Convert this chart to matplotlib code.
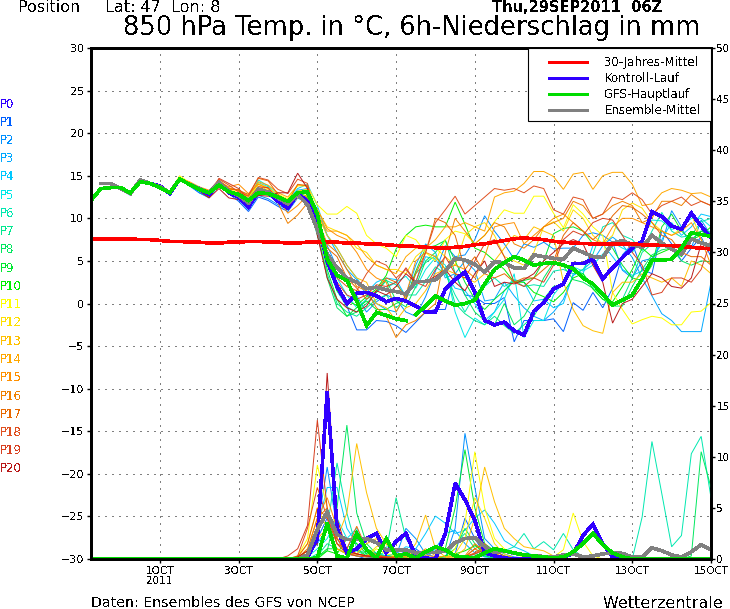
import matplotlib
import matplotlib.pyplot as plt
import numpy as np
from matplotlib.patches import Rectangle

matplotlib.use("Agg")

plt.rcParams["lines.antialiased"] = False
plt.rcParams["text.antialiased"] = False
plt.rcParams["lines.solid_joinstyle"] = "miter"

STEPS = np.arange(64)  # 6-hourly, starting 29SEP 06Z
TICK_STEPS = [7, 15, 23, 31, 39, 47, 55, 63]
TICK_LABELS = ["1OCT\n2011", "3OCT", "5OCT", "7OCT", "9OCT", "11OCT", "13OCT", "15OCT"]

MEMBER_COLORS = ["#3000ff", "#0060ff", "#0090ff", "#00a8ff", "#00c8ff", "#00e8e8", "#00e8b0",
                 "#00e890", "#00e860", "#00e830", "#00f000", "#ffff00", "#ffe000", "#ffc000",
                 "#ffa800", "#ff9000", "#f08000", "#e86800", "#e05020", "#d84020", "#b81818"]

CLIMATE = [7.6, 7.6, 7.6, 7.6, 7.6, 7.5, 7.5, 7.4, 7.3, 7.3, 7.2, 7.2, 7.1, 7.1, 7.2, 7.2,
           7.3, 7.3, 7.2, 7.2, 7.1, 7.1, 7.2, 7.2, 7.2, 7.2, 7.1, 7.1, 7.0, 7.0, 6.9, 6.8,
           6.75, 6.7, 6.6, 6.55, 6.5, 6.6, 6.7, 6.9, 7.0, 7.2, 7.4, 7.6, 7.7, 7.6, 7.5, 7.3,
           7.2, 7.1, 7.05, 7.0, 7.0, 7.0, 7.0, 7.0, 6.9, 6.9, 6.8, 6.8, 6.7, 6.6, 6.5, 6.4]

GFS = [12.1, 13.5, 13.6, 13.6, 13.0, 14.3, 14.1, 13.6, 13.0, 14.6, 14.0, 13.4, 13.0, 13.9, 13.1, 12.8,
       12.1, 13.0, 12.9, 12.5, 12.0, 13.0, 13.1, 10.5, 5.2, 3.3, 2.7, 0.3, -2.6, -1.05, -1.4, -1.8,
       -2.0, -1.3, -0.3, 0.9, 0.3, -0.2, 0.0, 0.4, 2.3, 4.0, 4.8, 5.5, 5.1, 4.5, 4.7, 4.8,
       4.5, 4.1, 3.0, 2.3, 1.1, -0.2, 0.4, 1.0, 2.9, 5.1, 5.1, 5.2, 6.5, 8.3, 8.1, 7.9]

ENS_MEAN = [np.nan, 14.1, 14.1, 13.5, 12.9, 14.5, 14.1, 13.7, 13.0, 14.6, 14.0, 13.5, 13.0, 14.2, 13.2, 12.7,
            11.8, 13.4, 13.1, 12.4, 11.7, 12.8, 11.6, 8.7, 5.8, 4.2, 3.0, 2.5, 1.75, 1.9, 1.6, 1.4,
            1.1, 2.6, 2.6, 2.8, 3.8, 5.3, 5.1, 4.6, 3.7, 4.9, 4.8, 4.2, 4.1, 5.7, 5.5, 5.3,
            5.2, 6.5, 6.0, 5.5, 5.4, 7.1, 7.4, 6.9, 6.6, 8.0, 7.1, 6.4, 5.8, 7.6, 7.1, 6.8]

T_P0 = [np.nan, 14.1, 14.1, 13.5, 12.9, 14.5, 14.1, 13.8, 12.9, 14.6, 14.0, 13.4, 12.8, 14.2, 13.0, 12.5,
        11.3, 13.2, 13.0, 12.0, 11.2, 12.9, 12.0, 9.5, 5.0, 2.0, 0.0, 1.2, 1.3, 0.9, 0.2, 0.6,
        0.3, -0.3, -1.0, -1.0, 1.7, 2.8, 3.7, 1.3, -2.0, -2.5, -2.2, -3.2, -3.7, -0.9, 0.1, 1.7,
        2.3, 4.7, 4.7, 5.2, 2.9, 4.2, 5.4, 6.5, 7.3, 10.8, 10.2, 9.1, 8.7, 10.6, 9.1, 7.7]

T_P1 = [14.1, 14.1, 13.4, 12.7, 14.4, 14.1, 13.6, 12.8, 14.5, 13.9, 13.0, 12.5, 14.0, 12.9, 12.0, 10.8, 12.5, 12.1, 11.4, 10.8, 12.4, 11.8,
        9.0, 5.0, 1.5, -0.3, -3.1, -3.1, -2.0, -2.1, -2.6, -3.4, -2.2, -1.0, -0.7, -0.7, 3.4, 1.0, 0.8, 0.0, 0.0, 0.7, -4.5, -2.0, -2.0, -2.0, -1.8, -3.3, 0.1, -0.8, 1.3, -0.5, 1.8, 5.7, 7.0, 4.0, 3.5, 8.6, 7.0, 5.0, 6.5, 7.8, 5.5]
T_P2 = [14.1, 14.1, 13.4, 12.8, 14.5, 14.1, 13.6, 12.8, 14.6, 13.8, 13.0, 12.4, 13.9, 13.0, 12.2, 11.0, 12.7, 12.3, 11.6, 11.0, 12.6, 12.2,
        10.0, 6.8, 4.2, 2.6, 0.9, -1.0, 0.2, 1.0, 0.5, -1.0, -1.5, 0.8, 3.8, 6.8, 5.5, 5.7, 7.5, 10.3, 8.5, 7.0, 5.2, 7.0, 6.6, 7.2, 6.4, 6.5, 6.5, 8.0, 8.3, 8.0, 7.2, 3.9, 3.0, 5.0, 5.3, 7.0, 10.9, 9.0, 6.5, 9.8, 8.0]
T_P3 = [14.1, 14.1, 13.5, 12.8, 14.6, 14.2, 13.7, 12.9, 14.6, 14.0, 13.4, 13.0, 14.1, 13.2, 12.6, 11.9, 13.6, 13.2, 12.6, 11.8, 13.3, 13.5,
        10.8, 8.0, 6.0, 4.0, 2.8, 1.0, 0.0, -0.7, -1.0, 1.0, 4.5, 7.0, 6.0, 3.0, 3.5, 5.0, 3.9, 0.3, 0.5, 2.5, 0.9, -0.5, -1.5, -2.0, -1.0, 0.5, 3.3, 4.0, 5.0, 6.8, 7.8, 6.9, 5.4, 3.0, 0.9, -1.2, -2.0, -3.3, -3.3, -3.3, 2.5]
T_P4 = [14.1, 14.1, 13.5, 12.9, 14.5, 14.1, 13.8, 13.0, 14.7, 14.0, 13.5, 13.1, 14.3, 13.3, 12.8, 12.4, 14.2, 13.7, 12.5, 12.0, 13.5, 14.0,
        11.5, 8.0, 6.5, 4.5, 3.0, 1.3, 2.5, 3.0, 2.8, 0.8, 2.5, 5.5, 5.2, 3.5, 1.8, 1.5, 0.0, -2.0, -1.0, 1.5, 2.8, 2.5, 0.3, 0.5, -0.5, 0.0, 3.5, 3.5, 6.8, 7.0, 5.5, 4.0, 3.3, 3.8, 5.0, 7.5, 9.5, 8.0, 9.0, 10.5, 10.2]
T_P5 = [14.1, 14.1, 13.5, 12.8, 14.5, 14.1, 13.7, 12.9, 14.6, 14.0, 13.3, 12.9, 14.2, 13.1, 12.6, 12.2, 14.5, 13.8, 12.7, 12.2, 13.3, 13.2,
        9.5, 6.0, 3.0, 1.0, -0.5, 0.5, 1.5, 1.8, 2.5, 3.2, 1.8, 4.0, 5.4, 4.5, -1.0, -4.0, -1.7, -2.5, -1.0, 0.5, 3.5, -4.0, -2.0, -2.0, 1.0, 2.5, 4.3, 3.8, 4.5, 5.8, 7.2, 6.5, 6.0, 7.5, 9.8, 9.7, 8.7, 9.0, 10.0, 10.0, 9.0]
T_P6 = [14.1, 14.1, 13.5, 12.9, 14.6, 14.2, 13.7, 13.0, 14.6, 14.1, 13.5, 13.0, 14.2, 13.2, 12.6, 11.8, 13.2, 13.0, 12.3, 11.6, 12.8, 12.4,
        8.8, 4.5, 1.5, -0.4, -1.0, 0.5, 1.3, 2.7, 2.2, 1.0, 1.0, 2.6, 4.3, 3.5, 1.0, -1.0, 1.0, 2.0, 3.0, 2.0, 2.7, 2.0, 2.2, 2.0, 3.8, 4.0, 3.5, 4.0, 5.8, 9.0, 9.5, 8.0, 7.5, 6.2, 8.5, 10.7, 8.5, 7.8, 8.0, 9.6, 10.0]
T_P7 = [14.0, 14.0, 13.5, 12.8, 14.5, 14.1, 13.8, 13.0, 14.5, 14.0, 13.4, 12.9, 14.1, 13.0, 12.4, 11.6, 13.1, 12.8, 12.2, 11.3, 12.7, 12.0,
        8.0, 3.5, 0.0, -1.0, -1.5, -0.5, 0.5, 1.0, -0.5, 0.5, 3.5, 4.8, 5.6, 4.0, 0.0, -1.2, -2.0, -2.5, -1.5, -2.6, -3.5, -2.5, -1.5, 0.5, 2.0, 2.2, 4.0, 3.5, 2.0, 1.0, -0.3, 0.5, 3.0, 6.0, 7.0, 7.0, 6.8, 6.8, 8.0, 8.5, 8.4]
T_P8 = [14.1, 14.1, 13.5, 12.8, 14.4, 14.1, 13.6, 12.9, 14.6, 14.0, 13.3, 12.8, 14.1, 13.0, 12.3, 11.4, 13.0, 12.7, 12.0, 11.0, 12.6, 11.8,
        8.5, 3.0, -0.5, -1.5, -1.0, 0.0, 1.3, 2.8, 0.3, -0.4, 2.0, 5.0, 6.0, 7.5, 3.5, 1.0, -1.0, -2.0, -2.5, 0.0, -2.5, -1.5, 0.5, 3.0, 4.8, 4.4, 2.8, 2.5, 1.8, 0.5, -0.3, -0.3, 2.0, 4.0, 5.7, 6.3, 6.5, 5.0, 4.5, 5.0, 4.9]
T_P9 = [14.1, 14.1, 13.5, 12.9, 14.5, 14.1, 13.7, 13.0, 14.6, 13.9, 13.4, 12.9, 14.2, 13.1, 12.5, 11.5, 13.3, 13.0, 12.3, 11.5, 12.9, 12.4,
        9.0, 4.0, 0.5, -1.5, -0.5, 0.3, -0.7, -0.7, 0.0, 0.5, 3.8, 6.5, 6.8, 7.4, 5.0, 2.5, 0.5, -0.7, 0.5, 1.5, 2.6, 2.7, 3.0, 5.0, 8.2, 8.8, 9.0, 8.5, 7.0, 7.2, 6.5, 4.5, 3.0, 2.7, 4.5, 9.0, 10.5, 8.5, 7.5, 8.5, 8.0]
T_P10 = [14.0, 14.1, 13.4, 12.8, 14.5, 14.2, 13.7, 13.0, 14.7, 14.2, 13.5, 13.0, 14.3, 13.2, 12.6, 11.7, 13.4, 12.9, 12.4, 11.6, 13.0, 12.6,
         9.3, 5.0, 1.5, 0.3, -0.2, 0.8, 1.7, 3.3, 6.4, 8.0, 9.0, 9.2, 9.0, 9.0, 11.9, 9.3, 6.5, 6.0, 5.0, 4.0, 2.5, 2.5, 1.3, 0.8, 0.2, 1.3, 3.0, 3.5, 1.7, 0.5, 0.2, 2.0, 4.0, 6.5, 5.5, 6.0, 6.5, 5.5, 7.5, 8.0, 9.0]
T_P11 = [14.1, 14.1, 13.5, 12.9, 14.6, 14.2, 13.8, 13.1, 15.0, 14.2, 13.6, 13.2, 14.4, 13.4, 13.0, 12.5, 14.0, 13.5, 12.8, 12.3, 13.8, 13.8,
         11.6, 10.5, 10.5, 11.4, 10.6, 8.0, 7.0, 6.5, 5.5, 8.0, 7.5, 6.0, 5.0, 7.5, 8.5, 8.2, 7.0, 8.0, 9.6, 11.0, 10.6, 10.6, 12.6, 12.6, 10.6, 8.9, 11.6, 10.5, 9.0, 8.0, 1.3, -0.7, -2.4, -1.9, -1.5, -1.7, -2.5, -2.5, -1.0, -0.9, 0.1]
T_P12 = [14.1, 14.1, 13.5, 12.9, 14.5, 14.2, 13.8, 13.0, 14.8, 14.1, 13.5, 13.1, 14.3, 13.5, 13.2, 12.7, 14.1, 13.6, 12.7, 12.0, 13.2, 13.4,
         11.0, 9.0, 8.5, 8.0, 6.5, 6.0, 4.5, 4.0, 4.0, 3.5, 5.5, 6.5, 6.5, 5.5, 4.5, 8.0, 9.0, 9.5, 8.0, 5.5, 5.0, 4.5, 6.0, 9.0, 9.6, 8.5, 11.0, 10.0, 8.0, 7.0, 8.0, 11.0, 11.8, 11.2, 9.5, 8.5, 8.0, 8.8, 10.5, 7.5, 6.0]
T_P13 = [14.1, 14.1, 13.5, 12.8, 14.6, 14.1, 13.7, 13.0, 14.6, 14.1, 13.4, 13.0, 14.2, 13.3, 12.9, 12.3, 13.8, 13.3, 12.5, 11.4, 12.4, 12.8,
         10.5, 8.0, 6.5, 4.5, 3.0, 2.5, 0.0, -0.5, -2.0, -0.5, 0.0, 1.5, 3.5, 4.0, 3.5, 3.0, 2.5, 3.5, 5.0, 6.5, 8.0, 7.5, 9.0, 8.5, 8.0, 2.5, -0.7, -2.6, -3.2, -3.5, 1.3, 2.5, 2.5, 3.5, 3.0, 2.5, 3.0, 2.0, 5.0, 4.5, 3.5]
T_P14 = [14.1, 14.1, 13.6, 12.9, 14.6, 14.2, 13.8, 13.0, 14.7, 14.3, 13.7, 13.3, 14.4, 13.6, 13.3, 12.6, 14.3, 13.9, 13.0, 12.5, 13.9, 13.9,
         10.5, 8.5, 8.5, 8.0, 7.0, 5.5, 4.5, 4.0, 3.5, 5.5, 6.5, 6.5, 7.5, 9.0, 9.0, 9.5, 9.0, 8.5, 12.5, 13.0, 13.2, 14.1, 15.5, 15.5, 14.9, 13.4, 15.2, 15.4, 13.4, 15.0, 15.4, 15.4, 14.0, 11.5, 11.7, 13.0, 13.5, 13.3, 12.9, 13.0, 12.5]
T_P15 = [14.1, 14.1, 13.5, 12.9, 14.5, 14.1, 13.8, 13.1, 14.7, 14.2, 13.6, 13.2, 14.3, 13.7, 14.0, 12.9, 14.0, 13.5, 12.3, 10.6, 11.5, 12.7,
         11.0, 8.8, 8.0, 7.5, 6.0, 4.0, 3.0, 2.5, -1.0, 1.0, 5.0, 6.0, 5.5, 4.0, 4.5, 4.0, 3.0, 5.5, 9.0, 9.3, 9.5, 7.0, 8.0, 9.0, 10.0, 10.5, 9.5, 8.5, 7.5, 7.0, 9.0, 10.0, 10.0, 9.5, 9.0, 8.5, 8.0, 8.5, 9.5, 7.5, 4.5]
T_P16 = [14.1, 14.1, 13.5, 12.8, 14.5, 14.1, 13.6, 12.9, 14.6, 14.0, 13.4, 13.0, 14.3, 13.4, 13.4, 11.5, 13.0, 12.9, 11.8, 9.4, 10.4, 11.8,
         10.0, 7.0, 6.0, 4.0, 2.0, 1.5, -0.5, -1.5, -4.0, -2.5, -2.0, -1.0, 0.0, 6.0, 10.0, 8.5, 7.0, 8.0, 9.5, 9.0, 7.0, 6.5, 7.5, 9.0, 9.5, 10.0, 12.0, 11.5, 10.0, 10.5, 11.5, 12.0, 11.5, 9.5, 10.0, 12.0, 12.0, 11.5, 12.8, 12.0, 11.5]
T_P17 = [14.0, 14.1, 13.4, 12.9, 14.4, 14.0, 13.7, 13.0, 14.5, 14.1, 13.5, 13.1, 14.5, 13.5, 13.3, 12.8, 14.7, 14.4, 12.8, 11.9, 14.0, 13.8,
         9.5, 6.5, 5.5, 3.0, 1.8, 0.5, 1.5, 3.0, 2.5, 0.5, 3.5, 6.0, 10.0, 9.5, 8.0, 4.0, 5.5, 3.5, 3.0, 3.5, 2.5, 3.0, 3.0, 4.0, 5.0, 8.0, 9.5, 8.5, 7.5, 8.5, 10.3, 11.5, 11.3, 10.5, 9.5, 8.0, 7.5, 6.0, 5.5, 5.5, 4.5]
T_P18 = [14.1, 14.1, 13.5, 12.9, 14.5, 14.2, 13.8, 13.1, 14.6, 14.1, 13.6, 13.2, 14.6, 13.9, 13.1, 12.6, 14.8, 14.5, 13.4, 12.9, 14.6, 14.1,
         8.5, 6.0, 3.0, 2.0, 1.5, 3.5, 5.0, 4.5, 3.0, 4.0, 2.5, 6.0, 9.5, 11.0, 12.6, 10.5, 11.5, 12.5, 13.5, 13.3, 13.5, 13.0, 13.8, 13.5, 11.0, 10.5, 12.5, 12.2, 10.0, 10.5, 12.5, 12.2, 13.0, 12.2, 10.5, 11.5, 12.0, 12.5, 11.5, 12.0, 11.5]
T_P19 = [14.1, 14.1, 13.4, 12.8, 14.5, 14.1, 13.6, 12.8, 14.5, 13.9, 13.3, 12.5, 14.7, 14.1, 13.5, 12.2, 13.7, 13.6, 12.2, 11.3, 13.0, 12.3,
         9.0, 5.0, 2.5, 1.0, 0.5, 1.0, 2.2, 2.0, 2.5, 4.2, 2.5, 2.0, 4.0, 5.5, 3.5, 3.0, 5.0, 7.0, 7.5, 5.5, 2.5, 2.0, 3.0, 2.5, 4.5, 7.5, 8.5, 8.0, 9.5, 10.0, 9.8, 8.0, 6.0, 4.5, 1.0, 1.3, 3.0, 3.0, 2.5, 4.0, 7.5]
T_P20 = [14.1, 14.1, 13.5, 12.9, 14.5, 14.1, 13.7, 13.0, 14.5, 14.0, 13.2, 12.4, 13.5, 12.4, 12.2, 11.4, 12.7, 12.6, 13.0, 13.0, 15.3, 13.5,
         8.0, 3.0, 0.5, -0.5, -1.0, -0.3, 1.5, 1.0, 2.0, 3.5, 2.5, 2.5, 3.2, 4.0, 2.5, 1.5, 3.5, 5.0, 2.0, 2.5, 2.3, 2.8, 3.5, 5.0, 6.0, 7.0, 7.5, 7.0, 4.5, 2.5, -2.3, 0.0, 0.5, 2.0, 3.5, 3.0, 2.0, 1.8, 3.0, 7.0, 6.5]

T_MEMBERS = [T_P1, T_P2, T_P3, T_P4, T_P5, T_P6, T_P7, T_P8, T_P9, T_P10,
             T_P11, T_P12, T_P13, T_P14, T_P15, T_P16, T_P17, T_P18, T_P19, T_P20]

# precipitation, first 20 steps are dry for every run
DRY = [0.0] * 20
R_P0 = DRY + [0, 0, 0.2, 2, 16.4, 3, 0.6, 1, 2, 2.5, 0.6, 1.7, 2.5, 0.3, 0.1, 0, 2.5, 7.4, 5.8, 3.8,
              0.6, 0.3, 0.1, 0, 0, 0, 0, 0.1, 0.2, 0.5, 2.3, 3.4, 1.5, 0.2, 0, 0, 0, 0, 0, 0, 0, 0, 0, 0]
R_GFS = DRY + [0, 0, 0, 0.1, 3.5, 0.3, 0.1, 2.5, 0.9, 0.1, 2.0, 0.3, 0.5, 0.1, 0.7, 1.2, 0.9, 0.3, 0.2, 0.1,
               0.6, 1.0, 0.8, 0.6, 0.4, 0.3, 0.2, 0.1, 0.2, 0.7, 1.5, 2.5, 1.4, 0.6, 0.2, 0, 0, 0, 0, 0, 0, 0, 0, 0]
R_MEAN = DRY + [0, 0, 0.4, 2.9, 4.6, 2.4, 1.9, 1.9, 2.0, 1.6, 0.9, 0.9, 0.9, 0.6, 0.65, 0.65, 0.75, 1.6, 2.0, 2.1,
                1.2, 0.65, 0.8, 0.55, 0.4, 0.3, 0.25, 0.2, 0.4, 0.5, 0.2, 0.3, 0.5, 0.6, 0.55, 0.2, 0.2, 1.1, 0.8, 0.4, 0.2, 0.7, 1.4, 0.9]

R_P1 = DRY + [0, 0, 0.3, 2, 4, 1.5, 0.5, 0.3, 0, 0, 0, 0.2, 0.8, 1, 0.3, 0, 0, 0.5, 4, 2,
              0.5, 0.3, 0.2, 0, 0, 0, 0, 0, 0, 0, 0, 0, 0, 0, 0, 0, 0, 0, 0, 0, 0, 0, 0, 0]
R_P2 = DRY + [0, 0, 0.5, 3, 9, 3, 1, 2.8, 0.5, 0.2, 0, 0.3, 3, 2, 0.5, 0.2, 0.1, 3, 12.3, 7,
              2, 1, 0.5, 0.2, 0.1, 0, 0, 0, 0, 0, 0, 0, 0, 0, 0, 0, 0, 0, 0, 0, 0, 0, 0, 0]
R_P3 = DRY + [0, 0, 0.3, 1.5, 3, 2, 0.5, 0.3, 0.2, 0.1, 0.3, 0.5, 0.2, 0, 0, 1, 2.5, 2.8, 1.5, 0.6,
              0.2, 0.1, 0, 0, 0, 0, 0, 0, 0, 0, 0, 0, 0, 0, 0, 0, 0, 0, 0, 0, 0, 0, 0, 0]
R_P4 = DRY + [0, 0, 0.4, 3, 7, 7, 3, 1.5, 0.8, 0.5, 0.3, 0.5, 1.2, 1, 2.5, 4.2, 3.5, 2.5, 2.8, 4,
              4.8, 3.5, 1.8, 1.2, 0.8, 0.3, 0.2, 0.2, 0.1, 0, 0, 0, 0, 0, 0, 0, 0, 0, 0, 0, 0, 0, 0, 0]
R_P5 = DRY + [0, 0, 0.2, 1, 2, 4, 2, 3, 1, 0.6, 0.3, 0.2, 0.1, 0.1, 0, 0, 0, 0, 0, 0,
              0, 0, 0, 0, 0, 0, 0, 0, 0, 0, 0, 0, 0, 0, 0, 0, 0, 0, 0, 0, 0, 0, 0, 0]
R_P6 = DRY + [0, 0, 0, 0.5, 3, 9.4, 4.5, 1, 0.5, 0.3, 0.3, 0.2, 0.1, 0, 0, 0, 0, 0, 0, 0.5,
              0.3, 0.5, 0.8, 1.2, 2.5, 1, 1.7, 0.9, 2.5, 0.9, 0.2, 0, 0, 0, 0, 0, 4.1, 11.5, 6.4, 1.2, 2.3, 10.3, 12, 6]
R_P7 = DRY + [0, 0, 0, 0.3, 1.5, 1, 0.5, 0.8, 0.3, 0.2, 0.8, 6, 2, 0.5, 0.2, 0.1, 0.2, 1.5, 2.5, 1,
              0.3, 0.1, 0, 0, 0, 0, 0, 0, 0, 0, 0, 0, 0, 0, 0, 0, 0, 0, 0, 0, 0, 0, 0, 0]
R_P8 = DRY + [0, 0, 0, 0.2, 0.8, 5, 13.1, 4.5, 1.5, 0.5, 0.2, 0.2, 0.1, 0, 0, 0, 0.3, 1, 3, 1.5,
              0.3, 0.1, 0, 0, 0, 0, 0, 0, 0, 0, 0, 0, 0, 0, 0, 0, 0, 0, 0, 0, 0, 0.3, 10.5, 7]
R_P9 = DRY + [0, 0, 0, 0.2, 1, 1, 0.5, 1, 0.3, 0.1, 0, 0.1, 0, 0, 0, 0.2, 1, 5, 10.7, 5,
              1.5, 0.8, 0.3, 0.1, 0, 0, 0, 0, 0, 0, 0, 0, 0, 0, 0, 0, 0, 0, 0, 0, 0, 0, 0, 0]
R_P10 = DRY + [0, 0, 0, 0, 0.8, 0.5, 2, 1.5, 0.5, 0.2, 0.2, 0.2, 0.1, 0, 0, 0.1, 0.3, 0.5, 0.8, 1.3,
               0.8, 0.4, 0.2, 0.1, 0, 0, 0, 0, 0, 0, 0, 0, 0, 0, 0, 0, 0, 0, 0, 0, 0, 0, 0, 0]
R_P11 = DRY + [0, 0.3, 2, 9.2, 5, 1.5, 0.5, 0.3, 0.2, 1, 0.5, 0.3, 0.2, 0.1, 0, 0, 0, 1, 3.5, 10.5,
               5, 2, 1, 0.5, 0.2, 0.1, 0.2, 0.2, 0.9, 4.5, 1.7, 0.3, 0, 0, 0, 0, 0, 0, 0, 0, 0, 0, 0, 0]
R_P12 = DRY + [0, 0.2, 1.5, 5, 3, 1, 0.5, 0.5, 0.3, 1.2, 1.5, 0.5, 0.3, 0.8, 0.2, 0, 0, 0.5, 2, 6,
               4, 1.5, 0.5, 0.1, 0, 0, 0, 0, 0, 0, 0, 0, 0, 0, 0, 0, 0, 0, 0, 0, 0, 0, 0, 0]
R_P13 = DRY + [0, 0.1, 0.8, 3, 4.5, 2, 4.5, 11.3, 6.5, 3, 1.5, 0.5, 0.3, 1.5, 4.3, 1, 0.2, 0.2, 1, 4,
               9, 5.6, 3, 2, 1.2, 1, 0.8, 0.3, 0, 0, 0, 0, 0, 0, 0, 0, 0, 0, 0, 0, 0, 0, 0, 0]
R_P14 = DRY + [0, 0, 0.5, 2, 3, 1, 0.5, 0.5, 1.5, 2, 1, 0.5, 0.3, 0.3, 1, 0.3, 0.2, 0.2, 0.3, 0.5,
               1, 0.5, 0.2, 0, 0, 0, 0, 0, 0, 0, 0, 0, 0, 0, 0, 0, 0, 0, 0, 0, 0, 0, 0, 0]
R_P15 = DRY + [0, 0.1, 0.8, 4, 6, 3, 1, 0.5, 0.3, 0.2, 0.1, 0.3, 0.2, 0.3, 0.4, 0.2, 0, 0, 0.2, 1,
               0.5, 0.2, 0, 0, 0, 0, 0, 0, 0, 0, 0, 0, 0, 0, 0, 0, 0, 0, 0, 0, 0, 0, 0, 0]
R_P16 = DRY + [0, 0.1, 1, 4, 5, 2, 1, 0.5, 0.3, 0.3, 0.2, 0.1, 0, 0, 0, 0, 0, 0, 0.3, 1.5,
               0.8, 0.3, 0.1, 0, 0, 0, 0, 0, 0, 0, 0, 0, 0, 0, 0, 0, 0, 0, 0, 0, 0, 0, 0, 0]
R_P17 = DRY + [0, 0.2, 1.5, 5, 4, 1.5, 1, 3.2, 1, 0.4, 0.2, 0.1, 0, 0, 0, 0, 0, 0, 0.2, 1,
               1.5, 0.6, 0.1, 0, 0, 0, 0, 0, 0, 0, 0, 0, 0, 0, 0, 0, 0, 0, 0, 0, 0, 0, 0, 0]
R_P18 = DRY + [0, 0.3, 3, 7, 4, 2, 0.5, 0.5, 0.3, 0.3, 0.2, 0.1, 0, 0, 0, 0, 0, 0, 0.2, 0.6,
               1.2, 0.8, 0.3, 0.1, 0, 0, 0, 0, 0, 0, 0, 0, 0, 0, 0, 0, 0, 0, 0, 0, 0, 0, 0, 0]
R_P19 = DRY + [0.3, 1, 3.3, 13.6, 5, 1.5, 0.5, 0.3, 0.2, 0.2, 0.1, 0, 0, 0, 0, 0, 0, 0, 0.2, 0.5,
               0.9, 0.4, 0.1, 0, 0, 0, 0, 0, 0, 0, 0, 0, 0, 0, 0, 0, 0, 0, 0, 0, 0, 0, 0, 0]
R_P20 = DRY + [0, 0.2, 0.8, 1.5, 18.2, 4, 0.8, 0.5, 0.3, 0.2, 0.1, 0, 0, 0, 0, 0, 0, 0, 0, 0.3,
               0.5, 0.2, 0, 0, 0, 0, 0, 0, 0, 0, 0, 0, 0, 0, 0, 0, 0, 0, 0, 0, 0, 0, 0, 0]

R_MEMBERS = [R_P1, R_P2, R_P3, R_P4, R_P5, R_P6, R_P7, R_P8, R_P9, R_P10,
             R_P11, R_P12, R_P13, R_P14, R_P15, R_P16, R_P17, R_P18, R_P19, R_P20]

LEGEND_LABELS = ["30-Jahres-Mittel", "Kontroll-Lauf", "GFS-Hauptlauf", "Ensemble-Mittel"]
LEGEND_COLORS = ["#ff0000", "#3000ff", "#00dc00", "#808080"]

W, H = 730, 609


def put_text(fig, x, y, text, **kw):
    fig.text(x / W, 1 - y / H, text, va="center", **kw)


fig = plt.figure(figsize=(W / 100, H / 100), dpi=100)
ax = fig.add_axes([91 / W, 1 - 559 / H, 620 / W, 511 / H])
ax2 = ax.twinx()

ax.set_xlim(0, 63)
ax.set_ylim(-30, 30)
ax2.set_ylim(0, 50)

thin = 0.7
thick = 1.9

# temperature and precipitation share the same axes frame
for i, series in enumerate(T_MEMBERS):
    ax.plot(STEPS[1:], series, color=MEMBER_COLORS[i + 1], lw=thin, antialiased=True)
for i, series in enumerate(R_MEMBERS):
    ax2.plot(STEPS, series, color=MEMBER_COLORS[i + 1], lw=thin, antialiased=True)

# the two axes stack, so the thick temperature lines go on the upper one
ax2.plot(STEPS, R_P0, color=LEGEND_COLORS[1], lw=thick)
ax2.plot(STEPS, R_MEAN, color=LEGEND_COLORS[3], lw=thick)
ax2.plot(STEPS, R_GFS, color=LEGEND_COLORS[2], lw=thick)

y_temp = lambda v: (np.asarray(v, float) + 30) / 60 * 50
ax2.plot(STEPS, y_temp(T_P0), color=LEGEND_COLORS[1], lw=thick)
ax2.plot(STEPS, y_temp(ENS_MEAN), color=LEGEND_COLORS[3], lw=thick)
ax2.plot(STEPS, y_temp(CLIMATE), color=LEGEND_COLORS[0], lw=thick)
ax2.plot(STEPS[:33], y_temp(GFS[:33]), color=LEGEND_COLORS[2], lw=thick)
ax2.plot(STEPS[33:], y_temp(GFS[33:]), color=LEGEND_COLORS[2], lw=thick)

ax.set_xticks(TICK_STEPS)
ax.set_xticklabels(TICK_LABELS, linespacing=1.0)
ax.set_yticks(np.arange(-30, 31, 5))
ax2.set_yticks(np.arange(0, 51, 5))
ax.tick_params(axis="y", direction="out", length=3, width=1, labelsize=8, pad=2)
ax.tick_params(axis="x", direction="out", length=3, width=1, labelsize=7.5, pad=2)
ax2.tick_params(axis="y", direction="out", length=3, width=1, labelsize=7.5, pad=1)

ax.grid(True, color="#808080", lw=0.8, ls=(0, (1.5, 5)))
ax.set_axisbelow(True)

for a in (ax, ax2):
    for spine in a.spines.values():
        spine.set_linewidth(2.0)

# legend box is wider on the left than a matplotlib frame allows, so it gets its own patch
ax2.add_patch(Rectangle((528 / W, 1 - 121 / H), 183 / W, 73 / H, transform=fig.transFigure,
                        facecolor="white", edgecolor="black", lw=0.8, zorder=10))
handles = [plt.Line2D([], [], color=c, lw=thick) for c in LEGEND_COLORS]
leg = ax2.legend(handles, LEGEND_LABELS, loc="upper left", bbox_to_anchor=(549 / W, 1 - 56 / H),
                 bbox_transform=fig.transFigure, fontsize=8.5, frameon=False, borderpad=0,
                 borderaxespad=0, handlelength=3.2, handletextpad=1.5, labelspacing=0.26)
leg.set_zorder(11)

for i, color in enumerate(MEMBER_COLORS):
    put_text(fig, 0, 104 + i * 18.25, f"P{i}", color=color, fontsize=8.5, ha="left")

put_text(fig, 18, 7, "Position", fontsize=11.5, ha="left")
put_text(fig, 105, 7, "Lat: 47  Lon: 8", fontsize=11.5, ha="left")
put_text(fig, 492, 7, "Thu,29SEP2011  06Z", fontsize=10.5, ha="left", fontweight="bold")
put_text(fig, 123, 28, "850 hPa Temp. in \u00b0C, 6h-Niederschlag in mm", fontsize=18.5, ha="left")
put_text(fig, 91, 603, "Daten: Ensembles des GFS von NCEP", fontsize=10.2, ha="left")
put_text(fig, 603, 603, "Wetterzentrale", fontsize=11.5, ha="left")

fig.savefig("out.png", dpi=100)
plt.close(fig)
